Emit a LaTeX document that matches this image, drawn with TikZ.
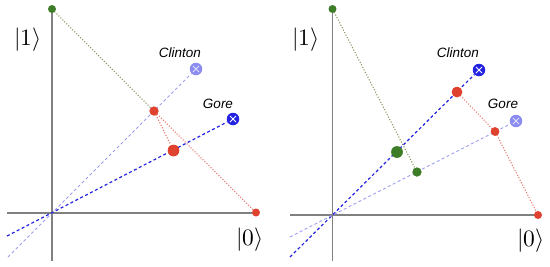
\documentclass[tikz,border=0pt]{standalone}
\usepackage{fontspec}
\usepackage{unicode-math}
\newfontfamily\labfont{Liberation Sans}
\definecolor{dgreen}{RGB}{62,125,40}
\definecolor{dred}{RGB}{224,66,48}
\definecolor{dblue}{RGB}{35,35,225}
\definecolor{lblue}{RGB}{140,140,240}
\definecolor{axisgray}{RGB}{128,128,128}
\definecolor{olivedot}{RGB}{130,150,95}
\definecolor{reddot}{RGB}{232,115,105}
\tikzset{
  axis/.style={draw=axisgray, line width=1.3pt},
  dot/.style={circle, fill=#1, inner sep=0pt, draw=none},
  voter/.style={circle, fill=#1, inner sep=0pt, minimum size=12.5pt, draw=none},
  xmark/.style={draw=white, line width=0.9pt},
  dk/.style={draw=dblue, line width=1.2pt, dash pattern=on 3pt off 2.5pt},
  lt/.style={draw=lblue!85, line width=0.9pt, dash pattern=on 3pt off 2.5pt},
  dotline/.style={draw=#1, line width=1.5pt, line cap=round, dash pattern=on 0pt off 2.8pt},
  lab/.style={font=\labfont\itshape\fontsize{13.5}{13.5}\selectfont, inner sep=0pt},
  ket/.style={font=\fontsize{23.5}{23.5}\selectfont, inner sep=0pt}
}
\begin{document}
\begin{tikzpicture}[x=1pt,y=-1pt]
\useasboundingbox (0,0) rectangle (550,266);
% ================= LEFT PANEL =================
\coordinate (vtop1) at (52,9);
\coordinate (vbot1) at (52,261);
\coordinate (hl1) at (7,213);
\coordinate (hr1) at (256,213);
\coordinate (ge1) at (7,236);
\coordinate (ce1) at (8,257);
\draw[axis] (vtop1) -- (vbot1);
\draw[axis] (hl1) -- (hr1);
\node[dot=dgreen, minimum size=8pt] (g1) at (52,9) {};
\node[dot=dred, minimum size=8pt] (x1) at (256,212.5) {};
\node[voter=lblue] (c1) at (196,69) {};
\node[voter=dblue] (gore1) at (233,119) {};
\node[dot=dred, minimum size=9pt] (r1) at (154,111) {};
\node[dot=dred, minimum size=11.5pt] (r2) at (173.5,150.5) {};
\draw[lt] (ce1) -- (c1);
\draw[dk] (ge1) -- (gore1);
\draw[dotline=olivedot] (g1) -- (r1);
\draw[dotline=reddot] (r1) -- (x1);
\draw[dotline=reddot] (r1) -- (r2);
\node[dot=dred, minimum size=9pt] at (r1) {};
\node[dot=dred, minimum size=11.5pt] at (r2) {};
\draw[xmark, draw=white!70!lblue] ([shift={(-3,-3)}]c1.center) -- ([shift={(3,3)}]c1.center);
\draw[xmark, draw=white!70!lblue] ([shift={(-3,3)}]c1.center) -- ([shift={(3,-3)}]c1.center);
\draw[xmark] ([shift={(-3,-3)}]gore1.center) -- ([shift={(3,3)}]gore1.center);
\draw[xmark] ([shift={(-3,3)}]gore1.center) -- ([shift={(3,-3)}]gore1.center);
\node[lab] (cl1) at (180,53) {Clinton};
\node[lab] (gl1) at (218,104) {Gore};
\node[ket] (k1a) at (28,40) {$|1\rangle$};
\node[ket] (k0a) at (250,240) {$|0\rangle$};
% ================= RIGHT PANEL =================
\coordinate (vtop2) at (332.5,9);
\coordinate (vbot2) at (332.5,261);
\coordinate (hl2) at (290,215);
\coordinate (hr2) at (538,215);
\coordinate (ge2) at (290,237);
\coordinate (ce2) at (290,257);
\draw[axis] (vtop2) -- (vbot2);
\draw[axis] (hl2) -- (hr2);
\node[dot=dgreen, minimum size=8pt] (g2) at (332.5,9) {};
\node[dot=dred, minimum size=8pt] (x2) at (538,215) {};
\node[voter=dblue] (c2) at (479,70) {};
\node[voter=lblue] (gore2) at (516,121) {};
\node[dot=dred, minimum size=10.5pt] (rc2) at (457,92) {};
\node[dot=dred, minimum size=8.5pt] (rg2) at (495,131.5) {};
\node[dot=dgreen, minimum size=11.5pt] (gb2) at (397,152) {};
\node[dot=dgreen, minimum size=9pt] (gs2) at (417,172) {};
\draw[dk] (ce2) -- (c2);
\draw[lt] (ge2) -- (gore2);
\draw[dotline=olivedot] (g2) -- (gs2);
\draw[dotline=reddot] (rc2) -- (rg2);
\draw[dotline=reddot] (rg2) -- (x2);
\node[dot=dred, minimum size=10.5pt] at (rc2) {};
\node[dot=dred, minimum size=8.5pt] at (rg2) {};
\node[dot=dgreen, minimum size=11.5pt] at (gb2) {};
\node[dot=dgreen, minimum size=9pt] at (gs2) {};
\draw[xmark] ([shift={(-3,-3)}]c2.center) -- ([shift={(3,3)}]c2.center);
\draw[xmark] ([shift={(-3,3)}]c2.center) -- ([shift={(3,-3)}]c2.center);
\draw[xmark, draw=white!70!lblue] ([shift={(-3,-3)}]gore2.center) -- ([shift={(3,3)}]gore2.center);
\draw[xmark, draw=white!70!lblue] ([shift={(-3,3)}]gore2.center) -- ([shift={(3,-3)}]gore2.center);
\node[lab] (cl2) at (458,53) {Clinton};
\node[lab] (gl2) at (503,104) {Gore};
\node[ket] (k1b) at (306,40) {$|1\rangle$};
\node[ket] (k0b) at (531,241) {$|0\rangle$};
\end{tikzpicture}
\end{document}
